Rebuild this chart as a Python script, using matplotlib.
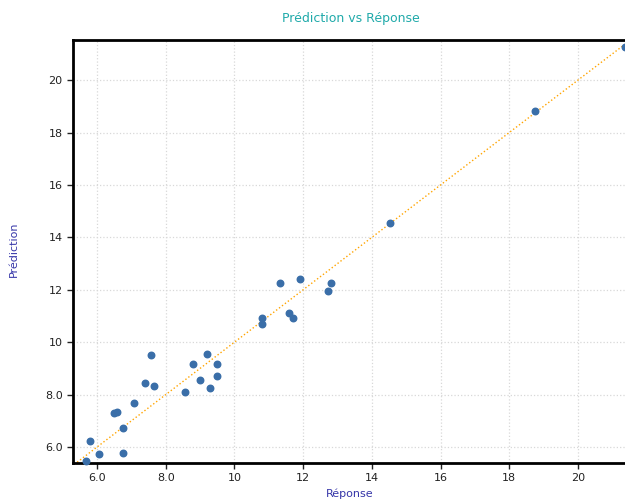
import matplotlib
matplotlib.use("Agg")
import matplotlib.pyplot as plt

# observed response vs model prediction
reponse = [5.68, 5.80, 6.06, 6.49, 6.58, 6.76, 6.76, 7.08, 7.40, 7.57,
           7.66, 8.56, 8.79, 8.99, 9.20, 9.29, 9.49, 9.49, 10.80, 10.80,
           11.33, 11.59, 11.71, 11.91, 12.72, 12.81, 14.53, 18.75, 21.37]
prediction = [5.47, 6.23, 5.73, 7.30, 7.34, 6.73, 5.77, 7.68, 8.44, 9.51,
              8.33, 8.10, 9.17, 8.56, 9.55, 8.25, 9.17, 8.71, 10.92, 10.69,
              12.26, 11.11, 10.92, 12.41, 11.95, 12.26, 14.55, 18.82, 21.27]
ticks = [6, 8, 10, 12, 14, 16, 18, 20]
tick_labels = ["6.0", "8.0", "10", "12", "14", "16", "18", "20"]
line_ends = [5.42, 21.37]

fig = plt.figure(figsize=(6.25, 4.99), dpi=100)
ax = fig.add_axes([0.1168, 0.0721, 0.8832, 0.8477])

ax.plot(line_ends, line_ends, color="orange", linestyle=":", linewidth=1, zorder=2)
ax.scatter(reponse, prediction, s=22, color="#3a6ea8", zorder=3, clip_on=False)

ax.set_xlim(5.30, 21.37)
ax.set_ylim(5.39, 21.53)
ax.set_xticks(ticks)
ax.set_xticklabels(tick_labels)
ax.set_yticks(ticks)
ax.set_yticklabels(tick_labels)
ax.tick_params(labelsize=8, length=4, width=1, colors="#222222")

ax.grid(True, color="#d8d8d8", linestyle=":", linewidth=0.9)
ax.set_axisbelow(True)
for side in ["left", "top", "bottom"]:
    ax.spines[side].set_linewidth(2)
    ax.spines[side].set_color("black")
ax.spines["right"].set_visible(False)

fig.text(0.562, 0.963, "Prédiction vs Réponse", ha="center", va="center",
         fontsize=9, color="#20aaaa", family="DejaVu Sans")
fig.text(0.56, 0.001, "Réponse", ha="center", va="bottom",
         fontsize=8, color="#3535a8")
fig.text(0.022, 0.5, "Prédiction", ha="center", va="center",
         fontsize=8, color="#3535a8", rotation=90)

fig.savefig("out.png", dpi=100)
